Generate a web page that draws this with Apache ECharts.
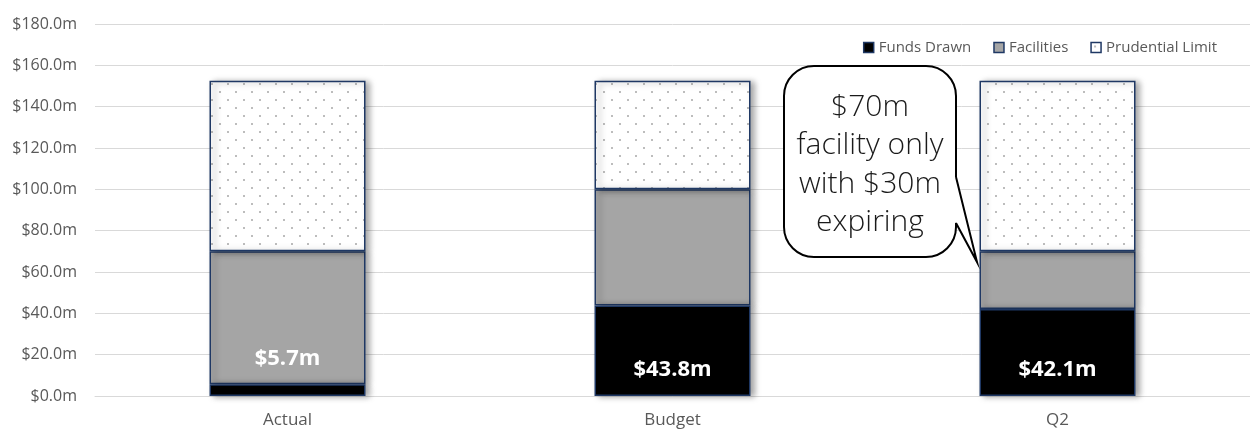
<!DOCTYPE html>
<html>
<head>
<meta charset="utf-8">
<script src="https://cdn.jsdelivr.net/npm/echarts@6/dist/echarts.min.js"></script>
<style>
html,body{margin:0;padding:0;background:#fff;}
#chart{width:1250px;height:431px;}
</style>
</head>
<body>
<div id="chart"></div>
<script>
// ---- data ----
const categories = ['Actual', 'Budget', 'Q2'];
const seriesNames = ['Funds Drawn', 'Facilities', 'Prudential Limit'];
const fundsDrawn = [5.7, 43.8, 42.1];
const facilities = [64.3, 56.2, 27.9];      // segment above funds drawn (tops at 70, 100, 70)
const prudentialLimit = [82.5, 52.5, 82.5]; // segment above facilities (tops at ~152.5)
const yTicks = { min: 0, max: 180, interval: 20 };
const calloutLines = ['$70m', 'facility only', 'with $30m', 'expiring'];

// ---- dotted pattern ----
const pc = document.createElement('canvas');
pc.width = 16; pc.height = 16;
const ctx = pc.getContext('2d');
ctx.fillStyle = '#ffffff';
ctx.fillRect(0, 0, 16, 16);
ctx.fillStyle = '#BDBDBD';
ctx.fillRect(3, 3, 2, 2);
ctx.fillRect(11, 11, 2, 2);

const navy = '#1F3864';
const font = 'Open Sans';
const baseItem = {
  borderColor: navy, borderWidth: 1.5,
  shadowColor: 'rgba(0,0,0,0.35)', shadowBlur: 6, shadowOffsetX: 4, shadowOffsetY: 1
};

const fundsData = fundsDrawn.map((v, i) => {
  const d = { value: v };
  if (i === 0) d.label = { distance: 26 };
  return d;
});

const chart = echarts.init(document.getElementById('chart'), null, { renderer: 'canvas' });
chart.setOption({
  animation: false,
  textStyle: { fontFamily: font },
  grid: { left: 95, right: -7, top: 24, bottom: 35 },
  legend: {
    top: 35, right: 28,
    itemWidth: 10, itemHeight: 10, itemGap: 22,
    textStyle: { color: '#595959', fontSize: 15, fontFamily: font, padding: [0, 0, 0, 0] },
    data: seriesNames.map(n => ({ name: n, icon: 'rect', itemStyle: { borderColor: navy, borderWidth: 1.5 } }))
  },
  xAxis: {
    type: 'category', data: categories,
    axisLine: { lineStyle: { color: '#D9D9D9' } },
    axisTick: { show: false },
    axisLabel: { color: '#595959', fontSize: 17, margin: 16, fontFamily: font }
  },
  yAxis: {
    type: 'value', min: yTicks.min, max: yTicks.max, interval: yTicks.interval,
    axisLine: { show: false }, axisTick: { show: false },
    splitLine: { lineStyle: { color: '#D9D9D9', width: 1 } },
    axisLabel: { color: '#595959', fontSize: 16, margin: 18, fontFamily: font,
      formatter: v => '$' + v.toFixed(1) + 'm' }
  },
  series: [
    {
      name: seriesNames[0], type: 'bar', stack: 't', barWidth: 156, z: 3,
      data: fundsData,
      itemStyle: Object.assign({ color: '#000000' }, baseItem),
      label: { show: true, position: 'insideBottom', distance: 15, color: '#ffffff',
        fontWeight: 'bold', fontSize: 22, fontFamily: font,
        formatter: p => '$' + p.value.toFixed(1) + 'm' }
    },
    {
      name: seriesNames[1], type: 'bar', stack: 't', barWidth: 156, z: 2,
      data: facilities,
      itemStyle: Object.assign({ color: '#A5A5A5' }, baseItem)
    },
    {
      name: seriesNames[2], type: 'bar', stack: 't', barWidth: 156, z: 2,
      data: prudentialLimit,
      itemStyle: Object.assign({ color: { image: pc, repeat: 'repeat' } }, baseItem)
    }
  ],
  graphic: [
    {
      type: 'rect', z: 10,
      shape: { x: 784, y: 66, width: 172, height: 191, r: 30 },
      style: { fill: '#ffffff', stroke: '#000000', lineWidth: 2 }
    },
    {
      type: 'polygon', z: 11,
      shape: { points: [[953, 178], [956, 177], [977, 262], [956, 223], [953, 222]] },
      style: { fill: '#ffffff', stroke: null }
    },
    {
      type: 'polyline', z: 12,
      shape: { points: [[956, 177], [977, 262], [956, 223]] },
      style: { fill: null, stroke: '#000000', lineWidth: 2, lineJoin: 'miter' }
    },
    {
      type: 'text', z: 13, x: 870, y: 88,
      style: {
        text: calloutLines.join('\n'), textAlign: 'center',
        font: '300 30px "Open Sans", sans-serif', lineHeight: 38.5, fill: '#1a1a1a'
      }
    }
  ]
});
</script>
</body>
</html>
